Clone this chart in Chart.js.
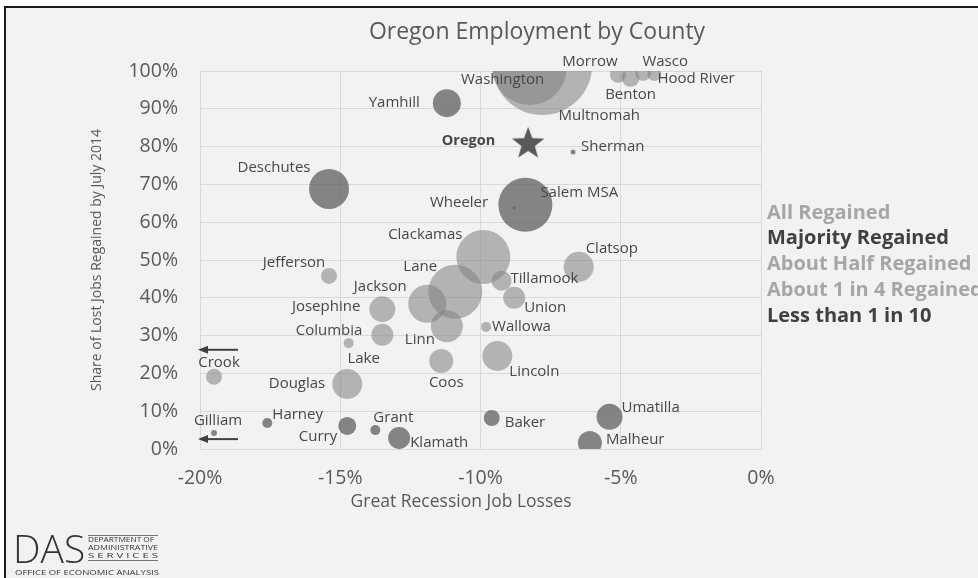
<!DOCTYPE html>
<html>
<head>
<meta charset="utf-8">
<script src="https://cdn.jsdelivr.net/npm/chart.js@4/dist/chart.umd.min.js"></script>
<style>
  html, body { margin: 0; padding: 0; background: #fff; }
  #wrap { position: relative; width: 978px; height: 578px; }
</style>
</head>
<body>
<div id="wrap"><canvas id="chart"></canvas></div>
<script>
// county data: job loss in the recession (%), share of lost jobs regained (%), bubble radius
const counties = ["Multnomah","Washington","Morrow","Benton","Wasco","Hood River","Yamhill","Sherman",
  "Deschutes","Salem MSA","Wheeler","Clackamas","Clatsop","Jefferson","Lane","Tillamook","Jackson","Union",
  "Josephine","Linn","Wallowa","Columbia","Lake","Lincoln","Coos","Crook","Douglas","Gilliam","Harney",
  "Curry","Grant","Klamath","Baker","Umatilla","Malheur"];
const jobLoss = [-7.8,-8.25,-5.1,-4.65,-4.2,-3.8,-11.2,-6.7,-15.4,-8.4,-8.8,-9.9,-6.5,-15.4,-10.9,-9.25,
  -11.9,-8.8,-13.5,-11.2,-9.8,-13.5,-14.7,-9.4,-11.4,-19.5,-14.75,-19.5,-17.6,-14.75,-13.75,-12.9,-9.6,-5.4,-6.1];
const regained = [101.6,100.8,99,98.2,99.5,99.2,91.5,78.6,68.8,64.6,63.8,50.8,48.2,45.8,41.6,44.5,38.4,40,
  37,32.5,32.3,30.2,28,24.6,23.3,19.1,17.2,4.2,6.9,6.1,5,2.9,8.2,8.5,1.6];
const bubbleSize = [50,37,8,9,8,7,14,2.5,20,27,1.5,27,15,8,27,10,19,11,13,16,5,11,5,15,12,8,15,3,5,9,5,11,8,13,12];
const tier = ["All","All","All","All","All","All","Majority","Majority","Majority","Majority","Majority",
  "Half","Half","Half","Half","Half","Half","Half","Half","Quarter","Quarter","Quarter","Quarter","Quarter",
  "Quarter","Quarter","Quarter","Few","Few","Few","Few","Few","Few","Few","Few"];

const stateName = "Oregon";
const stateLoss = -8.3;
const stateRegained = 81;

const tierNames = ["All","Majority","Half","Quarter","Few"];
const tierLabels = ["All Regained","Majority Regained","About Half Regained","About 1 in 4 Regained","Less than 1 in 10"];
// counties whose losses run past the axis
const offScale = ["Crook","Gilliam"];
const xTicks = [-20,-15,-10,-5,0];
const yTicks = [0,10,20,30,40,50,60,70,80,90,100];

const FONT = "'Open Sans', sans-serif";
const tierStyle = {
  All:      { fill: "rgba(128,128,128,0.55)", text: "#a6a6a6" },
  Majority: { fill: "rgba(95,95,95,0.75)",    text: "#404040" },
  Half:     { fill: "rgba(128,128,128,0.55)", text: "#a6a6a6" },
  Quarter:  { fill: "rgba(128,128,128,0.55)", text: "#a6a6a6" },
  Few:      { fill: "rgba(95,95,95,0.75)",    text: "#404040" }
};

// label placement around each bubble: dx, dy (px), text align
const labelAt = {
  "Multnomah": [57,51,"center"], "Washington": [-27,12,"center"], "Morrow": [-28,-13,"center"],
  "Benton": [0,17,"center"], "Wasco": [22,-11,"center"], "Hood River": [3,5,"left"],
  "Yamhill": [-27,0,"right"], "Sherman": [8,-5,"left"], "Deschutes": [-55,-21,"center"],
  "Salem MSA": [15,-12,"left"], "Wheeler": [-26,-5,"right"], "Clackamas": [-58,-22,"center"],
  "Clatsop": [7,-18,"left"], "Jefferson": [-35,-13,"center"], "Lane": [-35,-25,"center"],
  "Tillamook": [9,-2,"left"], "Jackson": [-47,-17,"center"], "Union": [10,10,"left"],
  "Josephine": [-22,-2,"right"], "Linn": [-27,14,"center"], "Wallowa": [6,0,"left"],
  "Columbia": [-20,-4,"right"], "Lake": [15,16,"center"], "Lincoln": [12,16,"left"],
  "Coos": [5,22,"center"], "Crook": [5,-14,"center"], "Douglas": [-22,0,"right"],
  "Gilliam": [4,-12,"center"], "Harney": [5,-8,"left"], "Curry": [-10,11,"right"],
  "Grant": [18,-12,"center"], "Klamath": [11,5,"left"], "Baker": [13,5,"left"],
  "Umatilla": [12,-9,"left"], "Malheur": [16,-3,"left"]
};

// filled five-point star used as the marker for the state total
const star = document.createElement("canvas");
star.width = 36; star.height = 36;
(() => {
  const c = star.getContext("2d");
  c.fillStyle = "#595959";
  c.beginPath();
  for (let i = 0; i < 10; i++) {
    const r = i % 2 ? 7 : 17;
    const a = -Math.PI / 2 + i * Math.PI / 5;
    c.lineTo(18 + r * Math.cos(a), 19 + r * Math.sin(a));
  }
  c.closePath();
  c.fill();
})();

const datasets = tierNames.map(t => ({
  type: "bubble",
  label: t,
  data: counties.map((c, i) => ({ x: jobLoss[i], y: regained[i], r: bubbleSize[i], name: c }))
    .filter((d, i) => tier[i] === t),
  backgroundColor: tierStyle[t].fill,
  borderWidth: 0,
  clip: 0
}));
datasets.push({
  type: "scatter",
  label: stateName,
  data: [{ x: stateLoss, y: stateRegained }],
  pointStyle: star,
  clip: false
});

const decor = {
  id: "decor",
  beforeDraw(chart) {
    const { ctx, width, height } = chart;
    ctx.save();
    ctx.fillStyle = "#fff";
    ctx.fillRect(0, 0, width, height);
    ctx.fillStyle = "#f2f2f2";
    ctx.fillRect(5, 7, width - 5, height - 7);
    ctx.strokeStyle = "#1a1a1a";
    ctx.lineWidth = 2;
    ctx.beginPath();
    ctx.moveTo(5, height); ctx.lineTo(5, 7); ctx.lineTo(width, 7);
    ctx.stroke();
    ctx.restore();
  },
  afterDatasetsDraw(chart) {
    const { ctx } = chart;
    const xs = chart.scales.x, ys = chart.scales.y;
    ctx.save();
    ctx.textBaseline = "middle";

    // county names
    ctx.fillStyle = "#474747";
    ctx.font = "15px " + FONT;
    counties.forEach((c, i) => {
      const [dx, dy, align] = labelAt[c];
      ctx.textAlign = align;
      ctx.fillText(c, xs.getPixelForValue(jobLoss[i]) + dx, ys.getPixelForValue(regained[i]) + dy);
    });
    ctx.font = "bold 14.5px " + FONT;
    ctx.textAlign = "right";
    ctx.fillText(stateName, xs.getPixelForValue(stateLoss) - 33, ys.getPixelForValue(stateRegained) - 2);

    // arrows for off-scale counties
    ctx.strokeStyle = "#404040";
    ctx.fillStyle = "#404040";
    ctx.lineWidth = 2;
    offScale.forEach(c => {
      const i = counties.indexOf(c);
      const y = ys.getPixelForValue(regained[i]) + (c === "Crook" ? -27 : 6);
      const x0 = xs.left, x1 = xs.left + 38;
      ctx.beginPath(); ctx.moveTo(x1, y); ctx.lineTo(x0 + 6, y); ctx.stroke();
      ctx.beginPath(); ctx.moveTo(x0 - 2, y); ctx.lineTo(x0 + 8, y - 4); ctx.lineTo(x0 + 8, y + 4);
      ctx.closePath(); ctx.fill();
    });

    // title and axis titles
    ctx.fillStyle = "#595959";
    ctx.textAlign = "center";
    ctx.font = "23px " + FONT;
    ctx.fillText("Oregon Employment by County", 537, 32);
    ctx.font = "17.5px " + FONT;
    ctx.fillText("Great Recession Job Losses", 461, 502);
    ctx.save();
    ctx.translate(97, 260);
    ctx.rotate(-Math.PI / 2);
    ctx.font = "14px " + FONT;
    ctx.fillText("Share of Lost Jobs Regained by July 2014", 0, 0);
    ctx.restore();

    // tier key on the right
    ctx.textAlign = "left";
    ctx.font = "bold 20px " + FONT;
    tierNames.forEach((t, k) => {
      ctx.fillStyle = tierStyle[t].text;
      ctx.fillText(tierLabels[k], 767, 213 + k * 25.7);
    });

    // agency mark, bottom left
    ctx.fillStyle = "#333";
    ctx.textBaseline = "alphabetic";
    ctx.font = "300 39px " + FONT;
    ctx.fillText("DAS", 13, 563);
    const small = (txt, x, y, w, size) => {
      ctx.font = size + "px " + FONT;
      const m = ctx.measureText(txt).width;
      ctx.save(); ctx.translate(x, y); ctx.scale(w / m, 1); ctx.fillText(txt, 0, 0); ctx.restore();
    };
    small("DEPARTMENT OF", 88, 542, 66, 7);
    small("ADMINISTRATIVE", 88, 550, 70, 7);
    small("S E R V I C E S", 88, 558, 70, 7);
    small("OFFICE OF ECONOMIC ANALYSIS", 15, 575, 144, 7.5);
    ctx.strokeStyle = "#555"; ctx.lineWidth = 0.8;
    ctx.beginPath();
    ctx.moveTo(88, 535.5); ctx.lineTo(158, 535.5);
    ctx.moveTo(88, 560.5); ctx.lineTo(158, 560.5);
    ctx.stroke();
    ctx.restore();
  }
};

new Chart(document.getElementById("chart"), {
  type: "bubble",
  data: { datasets },
  options: {
    responsive: true,
    maintainAspectRatio: false,
    animation: false,
    layout: { padding: { left: 0, top: 71, right: 217, bottom: 0 } },
    plugins: { legend: { display: false }, tooltip: { enabled: false }, title: { display: false } },
    scales: {
      x: {
        type: "linear", min: -20, max: 0,
        afterBuildTicks: s => { s.ticks = xTicks.map(v => ({ value: v })); },
        afterFit: s => { s.height = 129; },
        grid: { color: "#d9d9d9", drawTicks: false },
        border: { color: "#d9d9d9" },
        ticks: { padding: 18, color: "#595959", font: { family: FONT, size: 19.5 }, callback: v => v + "%" }
      },
      y: {
        type: "linear", min: 0, max: 100,
        afterBuildTicks: s => { s.ticks = yTicks.map(v => ({ value: v })); },
        afterFit: s => { s.width = 200; },
        grid: { color: "#d9d9d9", drawTicks: false },
        border: { color: "#d9d9d9" },
        ticks: { padding: 22, color: "#595959", font: { family: FONT, size: 19.5 }, callback: v => v + "%" }
      }
    }
  },
  plugins: [decor]
});
</script>
</body>
</html>
